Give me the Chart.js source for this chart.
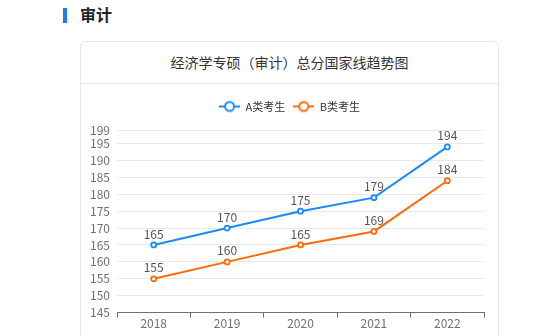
<!DOCTYPE html>
<html>
<head>
<meta charset="utf-8">
<script src="https://cdn.jsdelivr.net/npm/chart.js@4.4.1/dist/chart.umd.min.js"></script>
<style>
  html, body { margin: 0; padding: 0; background: #fff; width: 560px; height: 336px; overflow: hidden; }
  body { position: relative; font-family: "Noto Sans CJK SC", "Noto Sans", sans-serif; }
  .bar { position: absolute; left: 63px; top: 8px; width: 4px; height: 15px; background: #1a7cf5; }
  .head { position: absolute; left: 80px; top: 3px; font-size: 16px; font-weight: bold; color: #222; line-height: 22px; }
  .card { position: absolute; left: 80px; top: 41px; width: 419px; height: 320px; border: 1px solid #e6e6e6; border-radius: 6px; box-sizing: border-box; }
  .title { height: 42px; line-height: 41px; text-align: center; font-size: 14px; color: #333; border-bottom: 1px solid #e8e8e8; box-sizing: border-box; }
  .wrap { position: absolute; left: -1px; top: 42px; width: 419px; height: 252px; }
</style>
</head>
<body>
<div class="bar"></div>
<div class="head">审计</div>
<div class="card">
  <div class="title">经济学专硕（审计）总分国家线趋势图</div>
  <div class="wrap"><canvas id="c" width="419" height="252"></canvas></div>
</div>
<script>
const years = ['2018', '2019', '2020', '2021', '2022'];
const seriesNames = ['A类考生', 'B类考生'];
const scoresA = [165, 170, 175, 179, 194];
const scoresB = [155, 160, 165, 169, 184];
const yTicks = [145, 150, 155, 160, 165, 170, 175, 180, 185, 190, 195, 199];

const BLUE = '#1a8aff';
const ORANGE = '#ff6a0a';
const FONT = '"Noto Sans CJK SC", "Noto Sans", sans-serif';

// legend icon: short line with a hollow circle in the middle
function legendIcon(color) {
  const cv = document.createElement('canvas');
  cv.width = 21; cv.height = 14;
  const g = cv.getContext('2d');
  g.strokeStyle = color;
  g.lineWidth = 2;
  g.beginPath(); g.moveTo(0, 7); g.lineTo(21, 7); g.stroke();
  g.beginPath(); g.arc(10.5, 7, 4.5, 0, Math.PI * 2);
  g.fillStyle = '#fff'; g.fill(); g.stroke();
  return cv;
}

// value labels above each point
const valueLabels = {
  id: 'valueLabels',
  afterDatasetsDraw(chart) {
    const ctx = chart.ctx;
    ctx.save();
    ctx.font = '12px ' + FONT;
    ctx.fillStyle = '#555';
    ctx.textAlign = 'center';
    ctx.textBaseline = 'bottom';
    chart.data.datasets.forEach((ds, i) => {
      chart.getDatasetMeta(i).data.forEach((pt, j) => {
        ctx.fillText(String(ds.data[j]), pt.x, pt.y - 5);
      });
    });
    ctx.restore();
  }
};

// extra room below the legend, and legend centred on the whole card
const legendPlacement = {
  id: 'legendPlacement',
  beforeInit(chart) {
    const fit = chart.legend.fit;
    chart.legend.fit = function () {
      fit.call(this);
      this.height += 8;
    };
  },
  afterLayout(chart) {
    chart.legend.left += 15;
  }
};

const icons = [legendIcon(BLUE), legendIcon(ORANGE)];

new Chart(document.getElementById('c'), {
  type: 'line',
  data: {
    labels: years,
    datasets: [
      { label: seriesNames[0], data: scoresA, borderColor: BLUE, backgroundColor: '#fff',
        borderWidth: 2, pointRadius: 2.5, pointBorderWidth: 1.8, pointBackgroundColor: '#fff',
        pointBorderColor: BLUE, tension: 0 },
      { label: seriesNames[1], data: scoresB, borderColor: ORANGE, backgroundColor: '#fff',
        borderWidth: 2, pointRadius: 2.5, pointBorderWidth: 1.8, pointBackgroundColor: '#fff',
        pointBorderColor: ORANGE, tension: 0 }
    ]
  },
  options: {
    responsive: false,
    animation: false,
    layout: { padding: { left: 0, right: 15, top: 9, bottom: 6 } },
    plugins: {
      tooltip: { enabled: false },
      legend: {
        display: true,
        position: 'top',
        labels: {
          usePointStyle: true,
          pointStyleWidth: 21,
          font: { size: 11, family: FONT },
          color: '#333',
          padding: 8,
          generateLabels(chart) {
            return chart.data.datasets.map((ds, i) => ({
              text: ds.label,
              fillStyle: '#fff',
              strokeStyle: ds.borderColor,
              pointStyle: icons[i],
              datasetIndex: i,
              hidden: false,
              fontColor: '#333'
            }));
          }
        }
      }
    },
    scales: {
      x: {
        offset: true,
        grid: { display: true, drawOnChartArea: false, drawTicks: true, tickLength: 5, offset: true, color: '#6e7079' },
        border: { display: true, color: '#6e7079', width: 1 },
        ticks: { color: '#6e7079', font: { size: 12, family: FONT }, padding: -1, maxRotation: 0 }
      },
      y: {
        min: 145,
        max: 199,
        afterBuildTicks(scale) { scale.ticks = yTicks.map(v => ({ value: v })); },
        afterFit(scale) { scale.width = 37; },
        grid: { color: '#e6e9f2', drawTicks: false, lineWidth: 1 },
        border: { display: false },
        ticks: { color: '#6e7079', font: { size: 12, family: FONT }, padding: 7, autoSkip: false }
      }
    }
  },
  plugins: [valueLabels, legendPlacement]
});
</script>
</body>
</html>
